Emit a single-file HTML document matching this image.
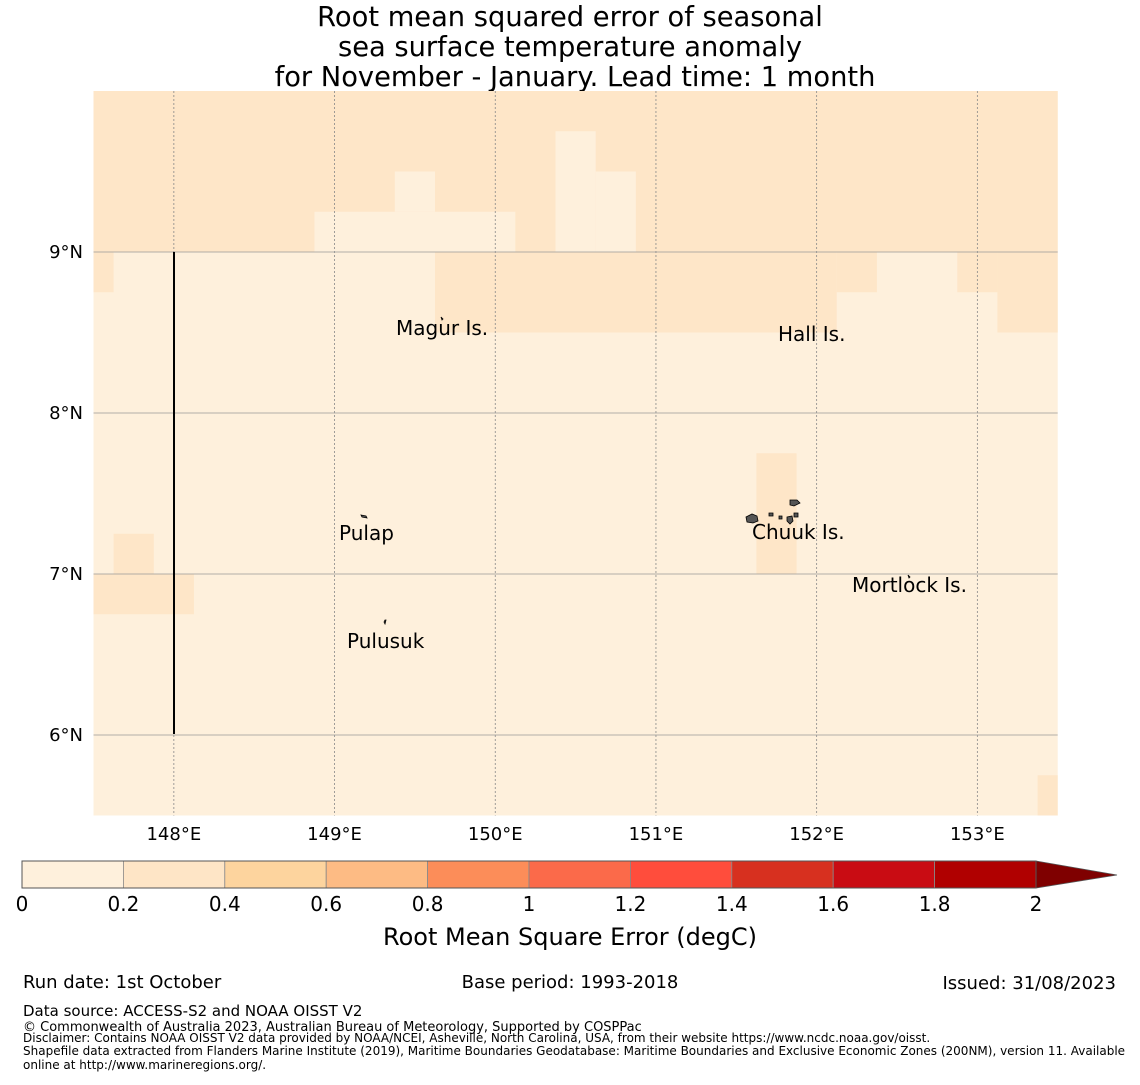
<!DOCTYPE html>
<html><head><meta charset="utf-8"><style>
body{margin:0;background:#fff;}
svg text{font-family:"DejaVu Sans","Liberation Sans",sans-serif;}
</style></head><body>
<svg id="c" width="1140" height="1080" xmlns="http://www.w3.org/2000/svg">
<g font-size="27.3" text-anchor="middle" fill="#000">
<text x="570" y="26">Root mean squared error of seasonal</text>
<text x="570" y="56">sea surface temperature anomaly</text>
<text x="575" y="86">for November - January. Lead time: 1 month</text>
</g>
<g id="cells"></g>
<g id="grid"></g>
<line x1="174" y1="252" x2="174" y2="734" stroke="#000" stroke-width="2"/>
<g id="islands" fill="#555" stroke="#000" stroke-width="0.8">
<path d="M746 517 l6 -3 5 2 1 5 -5 2 -6 -1z"/><path d="M769 513 l4 0 0 3 -4 0z"/><path d="M779 516 l3 0 0 3 -3 0z"/>
<path d="M787 517 l5 -1 1 5 -3 3 -3 -3z"/><path d="M790 500 l7 0 3 3 -6 3 -4 -1z"/><path d="M794 513 l4 0 0 4 -4 0z"/>
<path d="M361 515 l5 1 1 2 -5 -1z"/><path d="M384 622 l1 -2 1 0 -1 4z"/><path d="M441 317 l2 2 -1 1z"/><path d="M908 575 l2 2 -1 1z"/>
</g>
<g id="labels" font-size="20" fill="#000">
<text x="396" y="335">Magur Is.</text><text x="778" y="341">Hall Is.</text>
<text x="339" y="540">Pulap</text><text x="752" y="539">Chuuk Is.</text>
<text x="852" y="592">Mortlock Is.</text><text x="347" y="648">Pulusuk</text>
</g>
<g id="axes" font-size="18" fill="#000"></g>
<g id="cbar"></g>
<text x="570" y="945" font-size="24" text-anchor="middle">Root Mean Square Error (degC)</text>
<g font-size="18" fill="#000">
<text x="23" y="988">Run date: 1st October</text>
<text x="570" y="988" text-anchor="middle">Base period: 1993-2018</text>
<text x="1116" y="989" text-anchor="end">Issued: 31/08/2023</text>
<text x="23" y="1016" font-size="15">Data source: ACCESS-S2 and NOAA OISST V2</text>
<text x="23" y="1031" font-size="13">© Commonwealth of Australia 2023, Australian Bureau of Meteorology, Supported by COSPPac</text>
<text x="23" y="1042" font-size="12">Disclaimer: Contains NOAA OISST V2 data provided by NOAA/NCEI, Asheville, North Carolina, USA, from their website https://www.ncdc.noaa.gov/oisst.</text>
<text x="23" y="1055" font-size="12">Shapefile data extracted from Flanders Marine Institute (2019), Maritime Boundaries Geodatabase: Maritime Boundaries and Exclusive Economic Zones (200NM), version 11. Available</text>
<text x="23" y="1069" font-size="12">online at http://www.marineregions.org/.</text>
</g>
</svg>
<script>
// darker cells (RMSE 0.2-0.4): [lonMin, lonMax, latMin, latMax]
const darkLon0=[147.5,147.5,149.625,152.125,152.875,153.125,151.625,147.625,147.5,153.375];
const darkLon1=[153.5,147.625,152.125,152.375,153.125,153.5,151.875,147.875,148.125,153.5];
const darkLat0=[9.0,8.75,8.5,8.75,8.75,8.5,7.0,7.0,6.75,5.5];
const darkLat1=[10.0,9.0,9.0,9.0,9.0,9.0,7.75,7.25,7.0,5.75];
// lighter cells (RMSE 0-0.2) inside the top band
const lightLon0=[148.875,149.375,150.375,150.625];
const lightLon1=[150.125,149.625,150.625,150.875];
const lightLat0=[9.0,9.25,9.0,9.0];
const lightLat1=[9.25,9.5,9.75,9.5];
const cbTicks=["0","0.2","0.4","0.6","0.8","1","1.2","1.4","1.6","1.8","2"];
const cbColors=["#fef0dc","#fee5c6","#fdd49e","#fdbb84","#fc8d59","#fb6a4a","#ff4d3c","#d7301f","#c90c13","#b00000"];
const lonTicks=[148,149,150,151,152,153];
const latTicks=[6,7,8,9];
const NS="http://www.w3.org/2000/svg";
const X=lon=>93.5+(lon-147.5)*160.7;
const Y=lat=>252-(lat-9)*161;
function mk(t,a,p){const e=document.createElementNS(NS,t);for(const k in a)e.setAttribute(k,a[k]);p.appendChild(e);return e;}
const cells=document.getElementById('cells');
let bg=mk('rect',{x:X(147.5),y:Y(10),width:X(153.5)-X(147.5),height:Y(5.5)-Y(10),fill:"#fef0dc"},cells);


function dr(a,b,c,d,n,f){const r=mk('rect',{x:X(a),y:Y(d),width:X(b)-X(a),height:Y(c)-Y(d),fill:f},cells);

}
for(let i=0;i<darkLon0.length;i++)dr(darkLon0[i],darkLon1[i],darkLat0[i],darkLat1[i],'cell-dark',"#fee6c8");
for(let i=0;i<lightLon0.length;i++)dr(lightLon0[i],lightLon1[i],lightLat0[i],lightLat1[i],'cell-light',"#fef0dc");
const grid=document.getElementById('grid'),axes=document.getElementById('axes');
lonTicks.forEach(l=>{const g=mk('line',{x1:X(l),x2:X(l),y1:Y(10),y2:Y(5.5),stroke:"#888","stroke-width":0.8,"stroke-dasharray":"2,2"},grid);


const t=mk('text',{x:X(l),y:840,"text-anchor":"middle"},axes);t.textContent=l+"°E";

});
latTicks.forEach(l=>{const g=mk('line',{x1:X(147.5),x2:X(153.5),y1:Y(l),y2:Y(l),stroke:"#999","stroke-width":0.8},grid);


const t=mk('text',{x:83,y:Y(l)+6,"text-anchor":"end"},axes);t.textContent=l+"°N";

});
const cb=document.getElementById('cbar');const x0=22,x1=1036,w=(x1-x0)/cbColors.length;
cbColors.forEach((c,i)=>{const r=mk('rect',{x:x0+i*w,y:861,width:w,height:27,fill:c,stroke:"#888","stroke-width":0.8},cb);

});
const tri=mk('polygon',{points:`${x1},861 1117,875 ${x1},888`,fill:"#7f0000",stroke:"#555","stroke-width":0.8},cb);


mk('rect',{x:x0,y:861,width:x1-x0,height:27,fill:"none",stroke:"#555","stroke-width":1},cb);
cbTicks.forEach((s,i)=>{const t=mk('text',{x:x0+i*w,y:911,"text-anchor":"middle","font-size":20},cb);t.textContent=s;

});
</script>
</body></html>
